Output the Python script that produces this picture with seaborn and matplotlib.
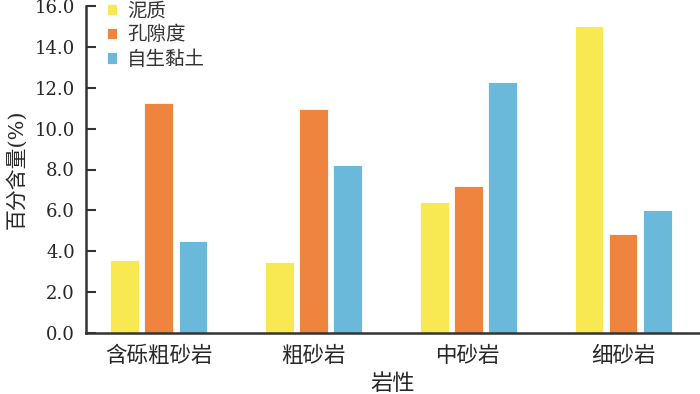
import matplotlib
matplotlib.use("Agg")
import matplotlib.pyplot as plt
import seaborn as sns
import pandas as pd

categories = ["含砾粗砂岩", "粗砂岩", "中砂岩", "细砂岩"]
series_names = ["泥质", "孔隙度", "自生黏土"]
mud = [3.55, 3.45, 6.4, 15.0]
porosity = [11.25, 10.95, 7.2, 4.85]
clay = [4.5, 8.2, 12.3, 6.0]
yticks = [0, 2, 4, 6, 8, 10, 12, 14, 16]
colors = ["#F8E852", "#EE843D", "#6BB9DA"]

rows = []
for name, vals in zip(series_names, [mud, porosity, clay]):
    for c, v in zip(categories, vals):
        rows.append({"岩性": c, "系列": name, "值": v})
df = pd.DataFrame(rows)

sns.set_theme(style="white")
plt.rcParams["font.family"] = ["DejaVu Serif", "Noto Sans CJK SC", "DejaVu Sans"]

fig = plt.figure(figsize=(7, 3.94), dpi=100)
ax = fig.add_axes([86 / 700, 1 - 333 / 394, (699 - 86) / 700, (333 - 6) / 394])

sns.barplot(data=df, x="岩性", y="值", hue="系列", order=categories,
            hue_order=series_names, palette=colors, width=0.66, gap=0.16,
            edgecolor="white", linewidth=0.6, ax=ax, saturation=1)

ax.set_xlim(-0.47, 3.49)
ax.set_ylim(0, 16)
ax.set_yticks(yticks)
ax.set_yticklabels([f"{t:.1f}" for t in yticks], fontsize=13)
ax.tick_params(axis="y", direction="in", length=7, width=1.5, color="#333333",
               left=True, pad=8)
ax.tick_params(axis="x", length=0, pad=9, labelsize=15.5)
for lab in ax.get_xticklabels():
    lab.set_color("#262626")
for lab in ax.get_yticklabels():
    lab.set_color("#262626")

for s in ["top", "right"]:
    ax.spines[s].set_visible(False)
for s in ["left", "bottom"]:
    ax.spines[s].set_color("#333333")
    ax.spines[s].set_linewidth(1.8)

ax.set_xlabel("岩性", fontsize=16, color="#262626", labelpad=4)
ax.set_ylabel("百分含量(%)", fontsize=15, color="#262626")
ax.yaxis.set_label_coords(-0.097, 0.5)

leg = ax.legend(loc="upper left", bbox_to_anchor=(0.005, 1.065), frameon=False,
                fontsize=14, handlelength=0.55, handleheight=0.55,
                handletextpad=0.5, labelspacing=0.3)
for t in leg.get_texts():
    t.set_color("#333333")

fig.savefig("out.png", dpi=100)
